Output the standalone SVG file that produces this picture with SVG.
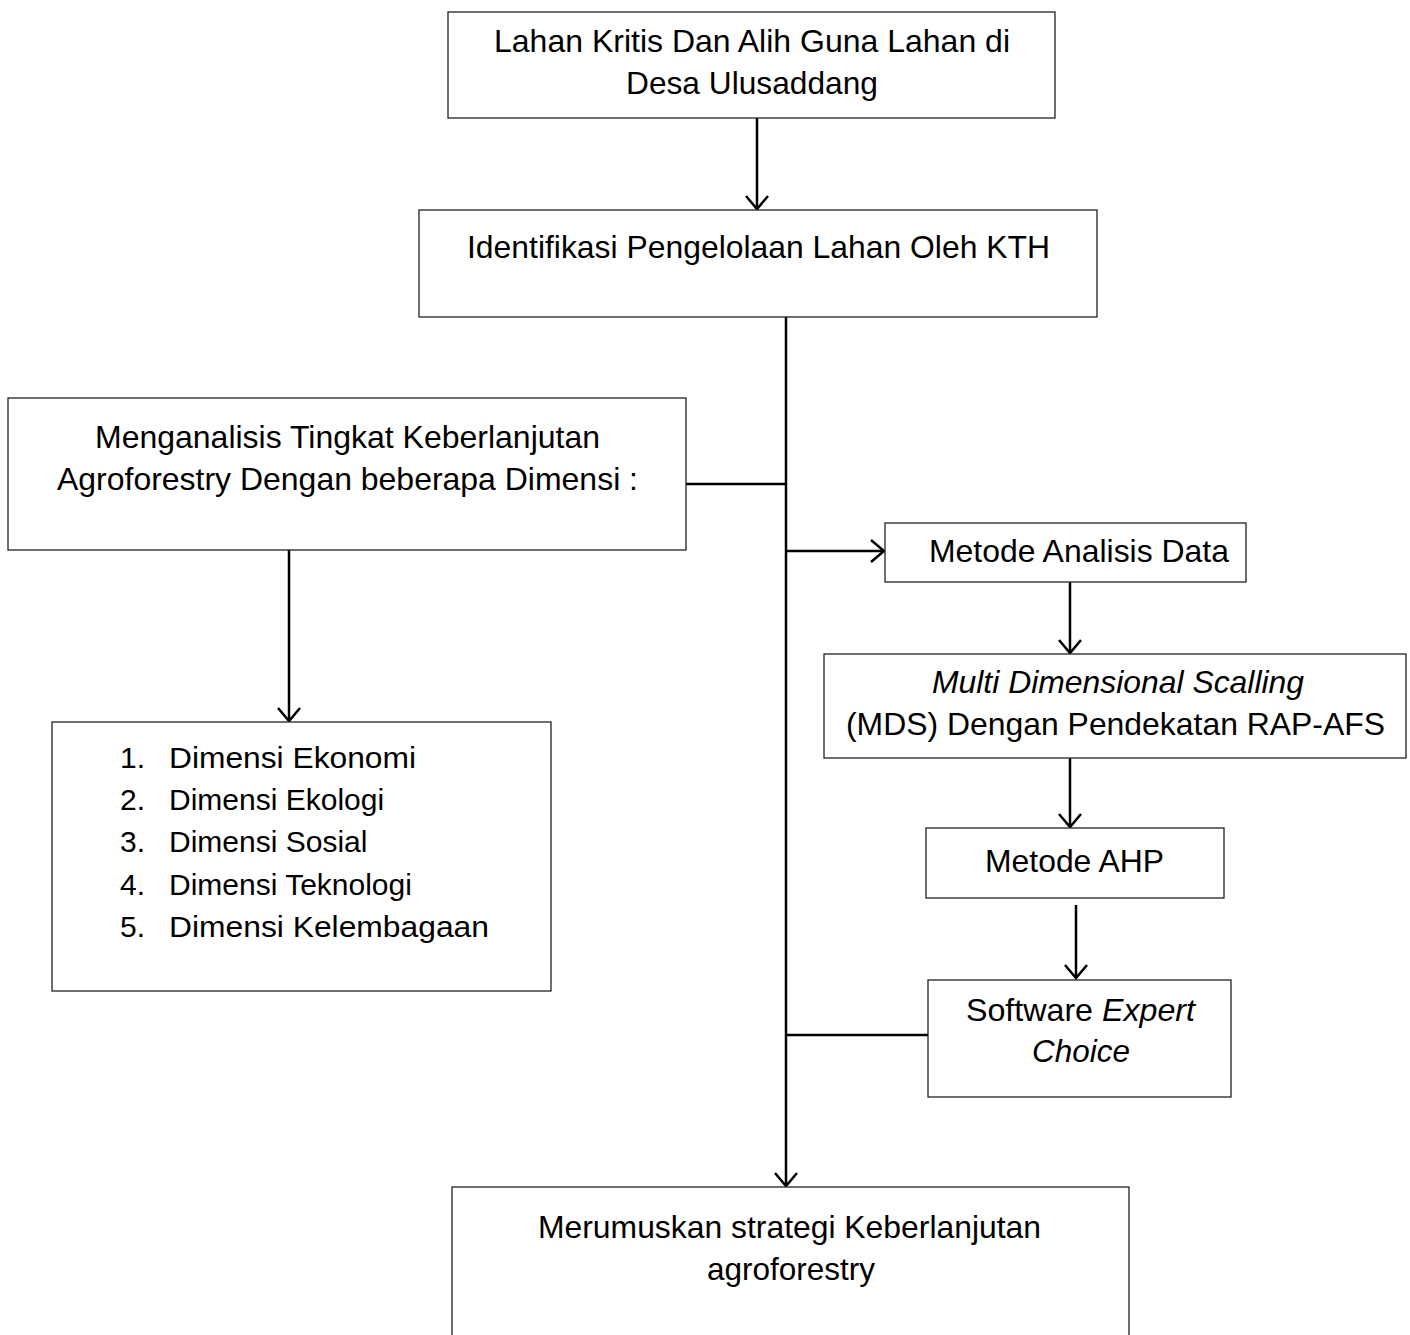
<svg xmlns="http://www.w3.org/2000/svg" width="1410" height="1335" viewBox="0 0 1410 1335">
<style>
.box{fill:#fff;stroke:#222;stroke-width:1.3}
.t{font-family:"Liberation Sans",Arial,sans-serif;font-size:31.5px;fill:#000}
.l{font-family:"Liberation Sans",Arial,sans-serif;font-size:30px;fill:#000}
.c{text-anchor:middle}
.i{font-style:italic}
.ln{stroke:#000;stroke-width:2.5;fill:none}
</style>
<defs>
<marker id="ah" markerUnits="userSpaceOnUse" markerWidth="18" markerHeight="26" refX="15" refY="12" orient="auto" overflow="visible">
<path d="M2,1 L15,12 L2,23" fill="none" stroke="#000" stroke-width="2.5"/>
</marker>
</defs>
<rect width="1410" height="1335" fill="#fff"/>
<g id="connectors">
<line class="ln" x1="757" y1="118" x2="757" y2="209" marker-end="url(#ah)"/>
<line class="ln" x1="786" y1="317" x2="786" y2="1186" marker-end="url(#ah)"/>
<line class="ln" x1="686" y1="484" x2="787" y2="484"/>
<line class="ln" x1="786" y1="551" x2="884" y2="551" marker-end="url(#ah)"/>
<line class="ln" x1="1070" y1="582" x2="1070" y2="653" marker-end="url(#ah)"/>
<line class="ln" x1="1070" y1="758" x2="1070" y2="827" marker-end="url(#ah)"/>
<line class="ln" x1="1076" y1="905" x2="1076" y2="978" marker-end="url(#ah)"/>
<line class="ln" x1="786" y1="1035" x2="928" y2="1035"/>
<line class="ln" x1="289" y1="550" x2="289" y2="721" marker-end="url(#ah)"/>
</g>
<g id="n1">
<rect class="box" x="448" y="12" width="607" height="106"/>
<text class="t c" x="752" y="52" textLength="516" lengthAdjust="spacingAndGlyphs">Lahan Kritis Dan Alih Guna Lahan di</text>
<text class="t c" x="752" y="94" textLength="252" lengthAdjust="spacingAndGlyphs">Desa Ulusaddang</text>
</g>
<g id="n2">
<rect class="box" x="419" y="210" width="678" height="107"/>
<text class="t c" x="758.5" y="258" textLength="583" lengthAdjust="spacingAndGlyphs">Identifikasi Pengelolaan Lahan Oleh KTH</text>
</g>
<g id="n3">
<rect class="box" x="8" y="398" width="678" height="152"/>
<text class="t c" x="347.5" y="448" textLength="505" lengthAdjust="spacingAndGlyphs">Menganalisis Tingkat Keberlanjutan</text>
<text class="t c" x="347.5" y="490" textLength="581" lengthAdjust="spacingAndGlyphs">Agroforestry Dengan beberapa Dimensi :</text>
</g>
<g id="n4">
<rect class="box" x="52" y="722" width="499" height="269"/>
<text class="l" x="120" y="768">1.</text><text class="l" x="169" y="768" textLength="247" lengthAdjust="spacingAndGlyphs">Dimensi Ekonomi</text>
<text class="l" x="120" y="810">2.</text><text class="l" x="169" y="810">Dimensi Ekologi</text>
<text class="l" x="120" y="852">3.</text><text class="l" x="169" y="852">Dimensi Sosial</text>
<text class="l" x="120" y="895">4.</text><text class="l" x="169" y="895">Dimensi Teknologi</text>
<text class="l" x="120" y="937">5.</text><text class="l" x="169" y="937" textLength="320" lengthAdjust="spacingAndGlyphs">Dimensi Kelembagaan</text>
</g>
<g id="n5">
<rect class="box" x="885" y="523" width="361" height="59"/>
<text class="t c" x="1079" y="562" textLength="300" lengthAdjust="spacingAndGlyphs">Metode Analisis Data</text>
</g>
<g id="n6">
<rect class="box" x="824" y="654" width="582" height="104"/>
<text class="t c i" x="1118" y="693" textLength="372" lengthAdjust="spacingAndGlyphs">Multi Dimensional Scalling</text>
<text class="t c" x="1115.5" y="735" textLength="539" lengthAdjust="spacingAndGlyphs">(MDS) Dengan Pendekatan RAP-AFS</text>
</g>
<g id="n7">
<rect class="box" x="926" y="828" width="298" height="70"/>
<text class="t c" x="1074.5" y="872" textLength="179" lengthAdjust="spacingAndGlyphs">Metode AHP</text>
</g>
<g id="n8">
<rect class="box" x="928" y="980" width="303" height="117"/>
<text class="t c" x="1080.5" y="1021" textLength="229" lengthAdjust="spacingAndGlyphs">Software <tspan class="i">Expert</tspan></text>
<text class="t c i" x="1081" y="1062" textLength="98" lengthAdjust="spacingAndGlyphs">Choice</text>
</g>
<g id="n9">
<rect class="box" x="452" y="1187" width="677" height="160"/>
<text class="t c" x="789.5" y="1238" textLength="503" lengthAdjust="spacingAndGlyphs">Merumuskan strategi Keberlanjutan</text>
<text class="t c" x="791" y="1280" textLength="168" lengthAdjust="spacingAndGlyphs">agroforestry</text>
</g>
</svg>
